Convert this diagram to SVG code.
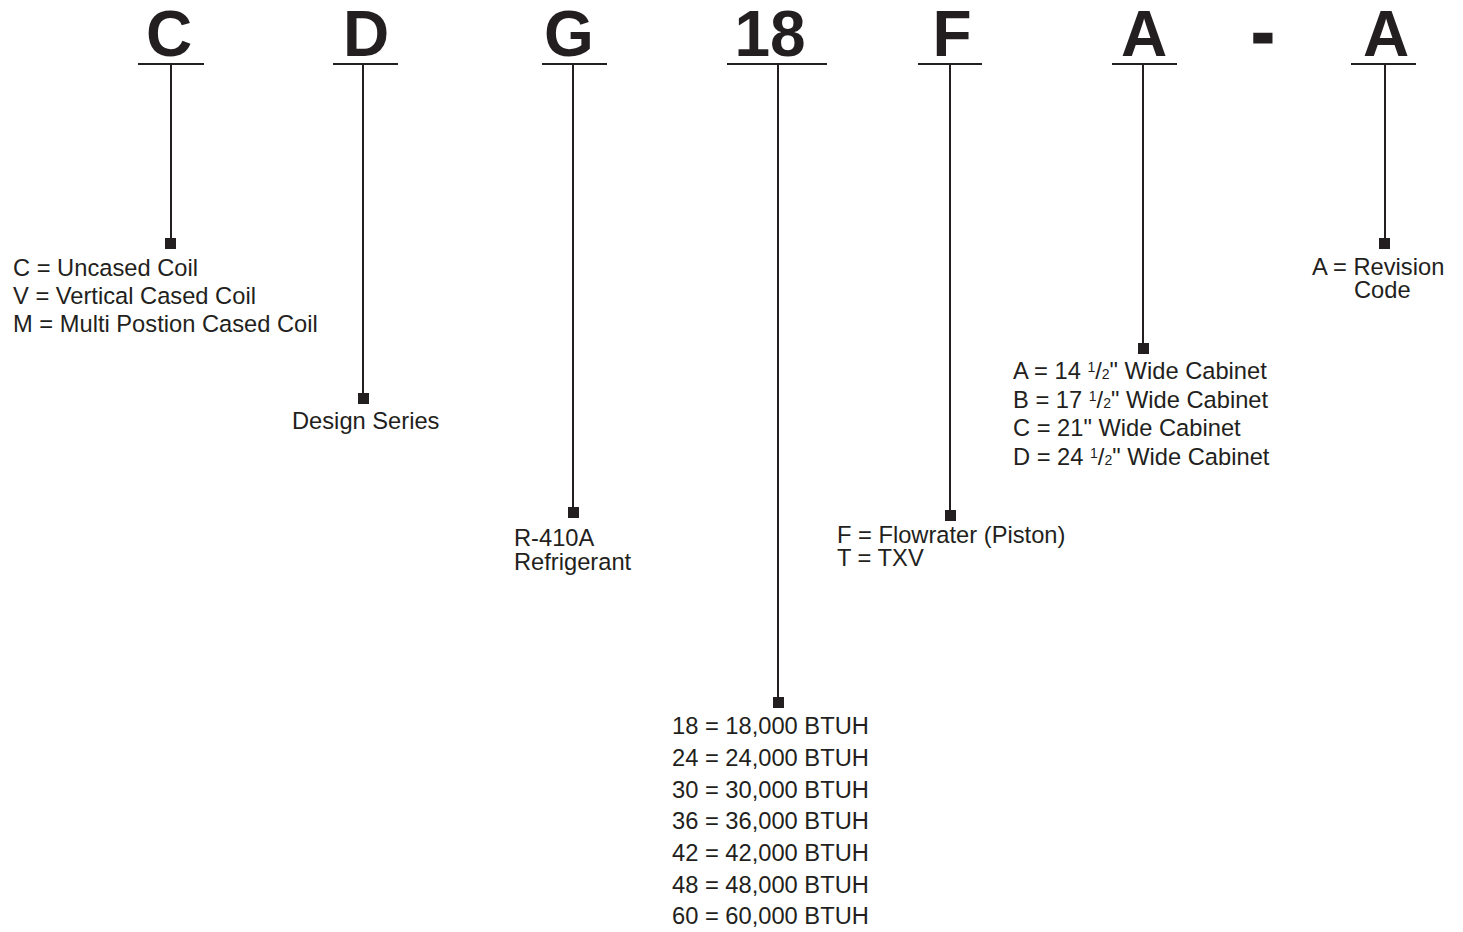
<svg xmlns="http://www.w3.org/2000/svg" width="1463" height="932" viewBox="0 0 1463 932">
<style>
.big{font-family:"Liberation Sans",Arial,sans-serif;font-weight:bold;font-size:64px;fill:#231f20;text-anchor:middle}
.t{font-family:"Liberation Sans",Arial,sans-serif;font-size:23.7px;fill:#231f20}
.ln{stroke:#231f20;stroke-width:2;fill:none}
.sq{fill:#231f20}
.s{font-size:14px}
</style>
<rect width="1463" height="932" fill="#ffffff"/>
<g id="connectors">
<path class="ln" d="M138 64H204M171 64V239"/>
<path class="ln" d="M333 64H398M363 64V394"/>
<path class="ln" d="M542 64H607M573 64V508"/>
<path class="ln" d="M727 64H827M778 64V698"/>
<path class="ln" d="M918 64H982M950 64V511"/>
<path class="ln" d="M1112 64H1177M1143 64V344"/>
<path class="ln" d="M1351 64H1416M1385 64V239"/>
</g>
<g id="node-c">
<text class="big" x="169" y="56">C</text>
<rect class="sq" x="165" y="238" width="11" height="11"/>
<text class="t" x="13" y="276">C = Uncased Coil</text>
<text class="t" x="13" y="304">V = Vertical Cased Coil</text>
<text class="t" x="13" y="332">M = Multi Postion Cased Coil</text>
</g>
<g id="node-d">
<text class="big" x="366" y="56">D</text>
<rect class="sq" x="358" y="393" width="11" height="11"/>
<text class="t" x="292" y="429">Design Series</text>
</g>
<g id="node-g">
<text class="big" x="569" y="56">G</text>
<rect class="sq" x="568" y="507" width="11" height="11"/>
<text class="t" x="514" y="546">R-410A</text>
<text class="t" x="514" y="570">Refrigerant</text>
</g>
<g id="node-18">
<text class="big" x="770" y="56">18</text>
<rect class="sq" x="773" y="697" width="11" height="11"/>
<text class="t" x="672" y="734">18 = 18,000 BTUH</text>
<text class="t" x="672" y="766">24 = 24,000 BTUH</text>
<text class="t" x="672" y="798">30 = 30,000 BTUH</text>
<text class="t" x="672" y="829">36 = 36,000 BTUH</text>
<text class="t" x="672" y="861">42 = 42,000 BTUH</text>
<text class="t" x="672" y="893">48 = 48,000 BTUH</text>
<text class="t" x="672" y="924">60 = 60,000 BTUH</text>
</g>
<g id="node-f">
<text class="big" x="952" y="56">F</text>
<rect class="sq" x="945" y="510" width="11" height="11"/>
<text class="t" x="837" y="543">F = Flowrater (Piston)</text>
<text class="t" x="837" y="566">T = TXV</text>
</g>
<g id="node-a">
<text class="big" x="1144" y="56">A</text>
<rect class="sq" x="1138" y="343" width="11" height="11"/>
<text class="t" x="1013" y="379">A = 14 <tspan class="s" dy="-7">1</tspan><tspan dy="7">/</tspan><tspan class="s">2</tspan>" Wide Cabinet</text>
<text class="t" x="1013" y="408">B = 17 <tspan class="s" dy="-7">1</tspan><tspan dy="7">/</tspan><tspan class="s">2</tspan>" Wide Cabinet</text>
<text class="t" x="1013" y="436">C = 21" Wide Cabinet</text>
<text class="t" x="1013" y="465">D = 24 <tspan class="s" dy="-7">1</tspan><tspan dy="7">/</tspan><tspan class="s">2</tspan>" Wide Cabinet</text>
</g>
<g id="node-dash">
<text class="big" x="1263" y="55" stroke="#231f20" stroke-width="3">-</text>
</g>
<g id="node-rev">
<text class="big" x="1386" y="56">A</text>
<rect class="sq" x="1379" y="238" width="11" height="11"/>
<text class="t" x="1312" y="275">A = Revision</text>
<text class="t" x="1354" y="298">Code</text>
</g>
</svg>
